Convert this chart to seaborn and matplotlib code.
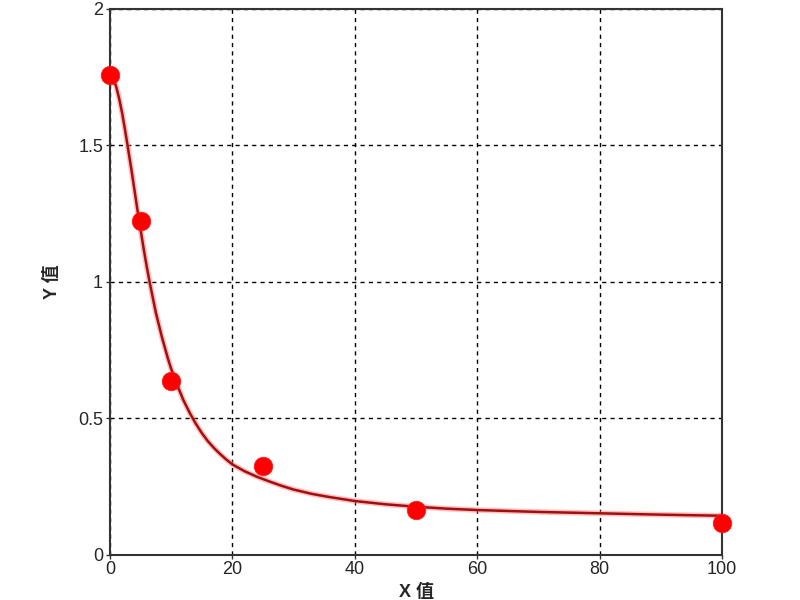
import pandas as pd
import seaborn as sns
import matplotlib.pyplot as plt

# measured points
x_pts = [0, 5, 10, 25, 50, 100]
y_pts = [1.756, 1.22, 0.636, 0.324, 0.163, 0.116]

# fitted curve
x_fit = [0, 0.5, 1, 1.5, 2, 2.5, 3, 3.5, 4, 4.5, 5, 5.5, 6, 6.5, 7, 7.5, 8, 8.5, 9, 9.5, 10,
         11, 12, 13, 14, 15, 16, 17, 18, 19, 20, 22, 24, 26, 28, 30, 33, 36, 40, 45, 50,
         55, 60, 70, 80, 90, 100]
y_fit = [1.76, 1.745, 1.715, 1.67, 1.615, 1.55, 1.48, 1.41, 1.335, 1.26, 1.19, 1.12, 1.055,
         0.995, 0.94, 0.885, 0.84, 0.795, 0.755, 0.715, 0.68, 0.62, 0.565, 0.52, 0.48, 0.445,
         0.415, 0.39, 0.368, 0.348, 0.33, 0.305, 0.285, 0.268, 0.252, 0.238, 0.222, 0.21,
         0.196, 0.184, 0.175, 0.168, 0.163, 0.156, 0.151, 0.146, 0.142]

x_ticks = [0, 20, 40, 60, 80, 100]
y_ticks = [0, 0.5, 1, 1.5, 2]

pts = pd.DataFrame({'x': x_pts, 'y': y_pts})
fit = pd.DataFrame({'x': x_fit, 'y': y_fit})

sns.set_style('white')
plt.rcParams['font.family'] = ['Liberation Sans', 'Noto Sans CJK SC', 'DejaVu Sans']

fig = plt.figure(figsize=(8, 6), dpi=100)
ax = fig.add_axes([0.1375, 0.0758, 0.765, 0.91])

# glow under the curve
sns.lineplot(data=fit, x='x', y='y', ax=ax, color='#ff8080', linewidth=4, alpha=0.5)
sns.lineplot(data=fit, x='x', y='y', ax=ax, color='#a01010', linewidth=1.8)
sns.scatterplot(data=pts, x='x', y='y', ax=ax, color='#ff0000', s=180, edgecolor='#ff2020',
                linewidth=0.5, zorder=5, clip_on=False)

ax.set_xlim(0, 100)
ax.set_ylim(0, 2)
ax.set_xticks(x_ticks)
ax.set_yticks(y_ticks)
ax.set_yticklabels(['0', '0.5', '1', '1.5', '2'])
ax.grid(True, color='black', linestyle=(0, (3, 3)), linewidth=1)
ax.set_axisbelow(True)
for s in ax.spines.values():
    s.set_color('#333333')
    s.set_linewidth(1.5)
ax.tick_params(axis='both', labelsize=13, length=3, width=1, color='#333333', pad=2, direction='out',
               left=True, bottom=True)
ax.set_xlabel('X 值', fontsize=13, fontweight='bold', labelpad=4)
ax.set_ylabel('Y 值', fontsize=13, fontweight='bold', labelpad=12)

fig.savefig('out.png', dpi=100)
